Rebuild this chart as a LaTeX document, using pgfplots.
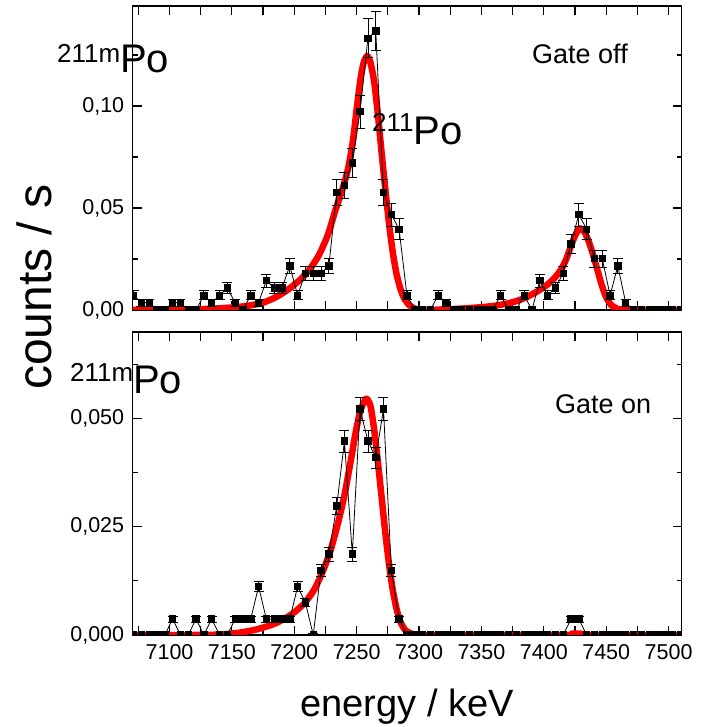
\documentclass[border=0pt]{standalone}
\usepackage{fontspec}
\setmainfont{Liberation Sans}
\usepackage{pgfplots}
\pgfplotsset{compat=1.18}

\pgfplotsset{
  panel/.style={
    scale only axis, width=549pt,
    xmin=7070.5, xmax=7510.5,
    xtick={7075,7100,...,7500},
    clip marker paths=true,
    axis line style={line width=1.5pt},
    every tick/.style={black, line width=1.2pt},
    major tick length=9pt, minor tick length=5pt,
    tick label style={font=\fontsize{21.5}{24}\selectfont},
    /pgf/number format/assume math mode=true,
    scaled y ticks=false,
    yticklabel style={xshift=-5pt, /pgf/number format/.cd, fixed, fixed zerofill, use comma},
    xticklabel style={yshift=-6pt},
  },
  pts/.style={black, line width=0.8pt, mark=square*, mark size=3.2pt,
    mark options={solid, fill=black}},
  errs/.style={draw=none, no marks,
    error bars/.cd, y dir=both, y explicit,
    error bar style={draw=black, line width=0.8pt},
    error mark options={rotate=90, mark size=5pt, line width=0.8pt, draw=black}},
  fit/.style={red, line width=6.5pt, line join=round, no marks, smooth, tension=0.4},
}

\begin{document}
\begin{tikzpicture}
\path[use as bounding box] (-132.7pt,-92pt) rectangle (575.3pt,635pt);

% ---- top: gate off ----
\begin{axis}[panel, name=top, at={(0pt,325pt)}, anchor=south west,
    height=304pt, ymin=0, ymax=0.149,
    ytick={0,0.05,0.1}, minor ytick={0.025,0.075,0.125},
    yticklabel style={/pgf/number format/precision=2},
    xticklabels={}]

\addplot[fit] coordinates {
 (7070.5,0) (7100,0.0001) (7120,0.0003) (7140,0.0008) (7155,0.0015) (7165,0.0023)
 (7175,0.0036) (7185,0.0062) (7195,0.0100) (7205,0.0150) (7213,0.0205) (7220,0.0272)
 (7227,0.0370) (7233,0.0490) (7238,0.0580) (7243,0.0690) (7247,0.0830) (7250.5,0.1010)
 (7253.5,0.1150) (7256,0.1220) (7258.5,0.1245) (7261,0.1215) (7264,0.1120) (7267,0.0960)
 (7270,0.0770) (7273,0.0590) (7276,0.0420) (7279,0.0280) (7282,0.0175) (7285,0.0105)
 (7288,0.0058) (7292,0.0025) (7297,0.0006) (7303,0) (7318,0.0002) (7340,0.0009)
 (7360,0.0020) (7375,0.0038) (7385,0.0060) (7395,0.0092) (7403,0.0125) (7409,0.0160)
 (7414,0.0200) (7418,0.0250) (7422,0.0318) (7425.5,0.0370) (7429,0.0400) (7432.5,0.0383)
 (7436,0.0336) (7439.5,0.0270) (7443,0.0195) (7446.5,0.0120) (7450,0.0062) (7454,0.0024)
 (7459,0.0006) (7466,0) (7510.5,0)
};

% error bars of the non-empty bins
\addplot[errs] coordinates {
 (7071.2,0.0072) +- (0,0.0022)
 (7077.5,0.0036) +- (0,0.0016)
 (7083.7,0.0036) +- (0,0.0016)
 (7102.5,0.0036) +- (0,0.0016)
 (7108.8,0.0036) +- (0,0.0016)
 (7127.5,0.0072) +- (0,0.0022)
 (7133.8,0.0036) +- (0,0.0016)
 (7140.1,0.0072) +- (0,0.0022)
 (7146.3,0.0108) +- (0,0.0027)
 (7152.6,0.0036) +- (0,0.0016)
 (7165.1,0.0072) +- (0,0.0022)
 (7171.4,0.0036) +- (0,0.0016)
 (7177.6,0.0144) +- (0,0.0031)
 (7183.9,0.0108) +- (0,0.0027)
 (7190.1,0.0108) +- (0,0.0027)
 (7196.4,0.0216) +- (0,0.0038)
 (7202.7,0.0072) +- (0,0.0022)
 (7208.9,0.0180) +- (0,0.0035)
 (7215.2,0.0180) +- (0,0.0035)
 (7221.4,0.0180) +- (0,0.0035)
 (7227.7,0.0216) +- (0,0.0038)
 (7234.0,0.0576) +- (0,0.0062)
 (7240.2,0.0612) +- (0,0.0064)
 (7246.5,0.0720) +- (0,0.0070)
 (7252.7,0.0972) +- (0,0.0081)
 (7259.0,0.1332) +- (0,0.0095)
 (7265.3,0.1368) +- (0,0.0096)
 (7271.5,0.0576) +- (0,0.0062)
 (7277.8,0.0468) +- (0,0.0056)
 (7284.0,0.0396) +- (0,0.0052)
 (7290.3,0.0072) +- (0,0.0022)
 (7315.3,0.0072) +- (0,0.0022)
 (7321.6,0.0036) +- (0,0.0016)
 (7365.4,0.0072) +- (0,0.0022)
 (7384.2,0.0072) +- (0,0.0022)
 (7396.7,0.0144) +- (0,0.0031)
 (7403.0,0.0072) +- (0,0.0022)
 (7409.2,0.0108) +- (0,0.0027)
 (7415.5,0.0180) +- (0,0.0035)
 (7421.8,0.0324) +- (0,0.0047)
 (7428.0,0.0468) +- (0,0.0056)
 (7434.3,0.0396) +- (0,0.0052)
 (7440.5,0.0252) +- (0,0.0041)
 (7446.8,0.0252) +- (0,0.0041)
 (7453.1,0.0072) +- (0,0.0022)
 (7459.3,0.0216) +- (0,0.0038)
 (7465.6,0.0036) +- (0,0.0016)
};

\addplot[pts] coordinates {
 (7071.2,0.0072) (7077.5,0.0036) (7083.7,0.0036) (7090.0,0) (7096.2,0)
 (7102.5,0.0036) (7108.8,0.0036) (7115.0,0) (7121.3,0) (7127.5,0.0072)
 (7133.8,0.0036) (7140.1,0.0072) (7146.3,0.0108) (7152.6,0.0036) (7158.8,0)
 (7165.1,0.0072) (7171.4,0.0036) (7177.6,0.0144) (7183.9,0.0108) (7190.1,0.0108)
 (7196.4,0.0216) (7202.7,0.0072) (7208.9,0.0180) (7215.2,0.0180) (7221.4,0.0180)
 (7227.7,0.0216) (7234.0,0.0576) (7240.2,0.0612) (7246.5,0.0720) (7252.7,0.0972)
 (7259.0,0.1332) (7265.3,0.1368) (7271.5,0.0576) (7277.8,0.0468) (7284.0,0.0396)
 (7290.3,0.0072) (7296.6,0) (7302.8,0) (7309.1,0) (7315.3,0.0072)
 (7321.6,0.0036) (7327.9,0) (7334.1,0) (7340.4,0) (7346.6,0)
 (7352.9,0) (7359.2,0) (7365.4,0.0072) (7371.7,0) (7377.9,0)
 (7384.2,0.0072) (7390.5,0) (7396.7,0.0144) (7403.0,0.0072) (7409.2,0.0108)
 (7415.5,0.0180) (7421.8,0.0324) (7428.0,0.0468) (7434.3,0.0396) (7440.5,0.0252)
 (7446.8,0.0252) (7453.1,0.0072) (7459.3,0.0216) (7465.6,0.0036) (7471.8,0)
 (7478.1,0) (7484.4,0) (7490.6,0) (7496.9,0) (7503.1,0) (7509.4,0)
};
\end{axis}

% ---- bottom: gate on ----
\begin{axis}[panel, name=bot, at={(0pt,0pt)}, anchor=south west,
    height=303pt, ymin=0, ymax=0.07,
    ytick={0,0.025,0.05}, minor ytick={0.0125,0.0375,0.0625},
    yticklabel style={/pgf/number format/precision=3},
    xticklabels={,7100,,7150,,7200,,7250,,7300,,7350,,7400,,7450,,7500}]

\addplot[fit] coordinates {
 (7070.5,0) (7120,0) (7140,0.0001) (7155,0.0005) (7170,0.0013) (7185,0.0027)
 (7198,0.0048) (7208,0.0073) (7216,0.0105) (7223,0.0148) (7229,0.0195) (7235,0.0258)
 (7240,0.0320) (7245,0.0398) (7249,0.0465) (7253,0.0518) (7257.5,0.0546) (7261,0.0530)
 (7264,0.0475) (7267,0.0400) (7270,0.0318) (7273,0.0235) (7276,0.0162) (7279,0.0103)
 (7282,0.0060) (7285,0.0031) (7289,0.0011) (7295,0.0002) (7300,0) (7415,0)
 (7422,0.0003) (7430,0.0003) (7437,0) (7510.5,0)
};

\addplot[errs] coordinates {
 (7102.5,0.0037) +- (0,0.0007)
 (7121.3,0.0037) +- (0,0.0007)
 (7133.8,0.0037) +- (0,0.0007)
 (7152.6,0.0037) +- (0,0.0007)
 (7158.8,0.0037) +- (0,0.0007)
 (7165.1,0.0037) +- (0,0.0007)
 (7171.4,0.0112) +- (0,0.0012)
 (7177.6,0.0037) +- (0,0.0007)
 (7183.9,0.0037) +- (0,0.0007)
 (7190.1,0.0037) +- (0,0.0007)
 (7196.4,0.0037) +- (0,0.0007)
 (7202.7,0.0112) +- (0,0.0012)
 (7208.9,0.0075) +- (0,0.0010)
 (7215.2,0) +- (0,0.0004)
 (7221.4,0.0149) +- (0,0.0014)
 (7227.7,0.0187) +- (0,0.0016)
 (7234.0,0.0298) +- (0,0.0020)
 (7240.2,0.0448) +- (0,0.0025)
 (7246.5,0.0187) +- (0,0.0016)
 (7252.7,0.0522) +- (0,0.0027)
 (7259.0,0.0448) +- (0,0.0025)
 (7265.3,0.0410) +- (0,0.0024)
 (7271.5,0.0522) +- (0,0.0027)
 (7277.8,0.0149) +- (0,0.0014)
 (7284.0,0.0037) +- (0,0.0007)
 (7421.8,0.0037) +- (0,0.0007)
 (7428.0,0.0037) +- (0,0.0007)
};

\addplot[pts] coordinates {
 (7071.2,0) (7077.5,0) (7083.7,0) (7090.0,0) (7096.2,0)
 (7102.5,0.0037) (7108.8,0) (7115.0,0) (7121.3,0.0037) (7127.5,0)
 (7133.8,0.0037) (7140.1,0) (7146.3,0) (7152.6,0.0037) (7158.8,0.0037)
 (7165.1,0.0037) (7171.4,0.0112) (7177.6,0.0037) (7183.9,0.0037) (7190.1,0.0037)
 (7196.4,0.0037) (7202.7,0.0112) (7208.9,0.0075) (7215.2,0) (7221.4,0.0149)
 (7227.7,0.0187) (7234.0,0.0298) (7240.2,0.0448) (7246.5,0.0187) (7252.7,0.0522)
 (7259.0,0.0448) (7265.3,0.0410) (7271.5,0.0522) (7277.8,0.0149) (7284.0,0.0037)
 (7290.3,0) (7296.6,0) (7302.8,0) (7309.1,0) (7315.3,0)
 (7321.6,0) (7327.9,0) (7334.1,0) (7340.4,0) (7346.6,0)
 (7352.9,0) (7359.2,0) (7365.4,0) (7371.7,0) (7377.9,0)
 (7384.2,0) (7390.5,0) (7396.7,0) (7403.0,0) (7409.2,0)
 (7415.5,0) (7421.8,0.0037) (7428.0,0.0037) (7434.3,0) (7440.5,0)
 (7446.8,0) (7453.1,0) (7459.3,0) (7465.6,0) (7471.8,0)
 (7478.1,0) (7484.4,0) (7490.6,0) (7496.9,0) (7503.1,0) (7509.4,0)
};
\end{axis}

% annotations and axis titles
\node[anchor=base west, inner sep=0pt] at ([xshift=-75.7pt, yshift=237pt]top.south west)
  {\fontsize{26}{30}\selectfont\raisebox{10.5pt}{211m}\fontsize{40}{44}\selectfont Po};
\node[anchor=base west, inner sep=0pt] at ([xshift=239.3pt, yshift=165pt]top.south west)
  {\fontsize{26}{30}\selectfont\raisebox{13pt}{211}\fontsize{40}{44}\selectfont Po};
\node[anchor=base west, inner sep=0pt] at ([xshift=399.3pt, yshift=246.7pt]top.south west)
  {\fontsize{27}{30}\selectfont Gate off};
\node[anchor=base west, inner sep=0pt] at ([xshift=-62.7pt, yshift=241.7pt]bot.south west)
  {\fontsize{26}{30}\selectfont\raisebox{11.5pt}{211m}\fontsize{40}{44}\selectfont Po};
\node[anchor=base west, inner sep=0pt] at ([xshift=422.3pt, yshift=221.7pt]bot.south west)
  {\fontsize{27}{30}\selectfont Gate on};
\node[anchor=base, rotate=90, inner sep=0pt] at ([xshift=-80.7pt, yshift=348pt]bot.south west)
  {\fontsize{48}{52}\selectfont counts / s};
\node[anchor=base, inner sep=0pt] at ([xshift=274.5pt, yshift=-81.7pt]bot.south west)
  {\fontsize{38}{44}\selectfont energy / keV};
\end{tikzpicture}
\end{document}
